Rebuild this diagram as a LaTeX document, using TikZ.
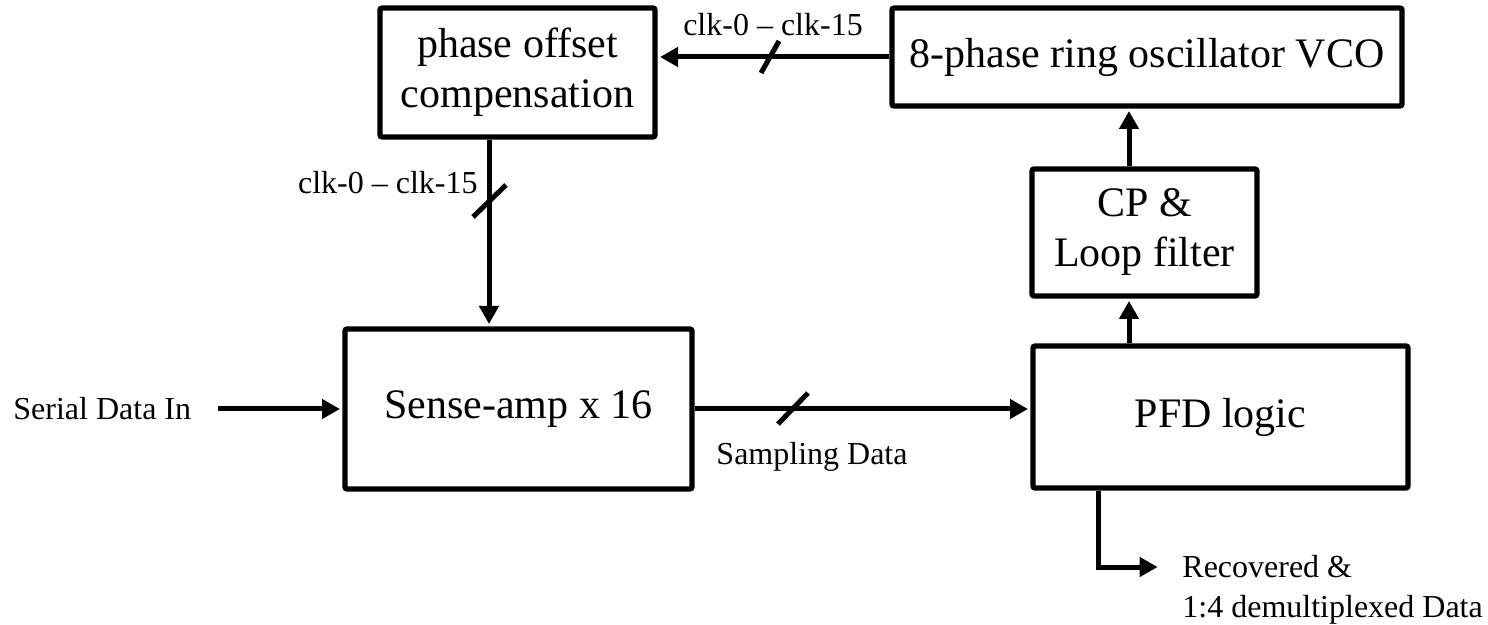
\documentclass[tikz,border=0pt]{standalone}
\usepackage{fontspec}
\setmainfont{Liberation Serif}
\usetikzlibrary{arrows.meta}
\begin{document}
\begin{tikzpicture}[x=0.5pt,y=-0.5pt,
  blk/.style={draw, line width=2.6pt, rounded corners=1pt, inner sep=0pt, align=center, font=\fontsize{21}{25}\selectfont},
  lbl/.style={inner sep=0pt, font=\fontsize{16}{20}\selectfont},
  conn/.style={line width=2.5pt, shorten >=1.2pt, -{Triangle[length=9pt,width=9.5pt]}},
  slash/.style={line width=2.5pt}]
\useasboundingbox (0,0) rectangle (1488,625);
% blocks
\node[blk, minimum width=137.5pt, minimum height=64.5pt] (phase) at (517.5,72.5) {phase offset\\compensation};
\node[blk, minimum width=255pt, minimum height=49pt] (vco) at (1147,57) {8-phase ring oscillator VCO};
\node[blk, minimum width=112.5pt, minimum height=63.5pt] (cp) at (1144.5,232.5) {CP \&\\Loop filter};
\node[blk, minimum width=173.5pt, minimum height=80pt] (sense) at (518.5,409) {Sense-amp x 16};
\node[blk, minimum width=187.5pt, minimum height=71pt] (pfd) at (1220.5,417) {PFD logic};
% labels
\node[lbl] (ltop) at (773,25) {clk-0 -- clk-15};
\node[lbl, anchor=east] (lleft) at (478,183) {clk-0 -- clk-15};
\node[lbl] (lsamp) at (812,457) {Sampling Data};
\node[lbl, anchor=west] (lsdi) at (13,409) {Serial Data In};
\node[lbl, anchor=west, align=left] (lout) at (1182,590) {Recovered \&\\1:4 demultiplexed Data};
% helper coordinates
\coordinate (cv) at (489,0);
\coordinate (cl) at (1129,0);
\coordinate (sin) at (218,409);
\coordinate (obend) at (1098,567);
\coordinate (oend) at (1160,567);
% connectors
\draw[conn] (vco.west) -- (vco.west -| phase.east);
\draw[conn] (phase.south -| cv) -- (sense.north -| cv);
\draw[conn] (sin) -- (sense.west);
\draw[conn] (sense.east) -- (sense.east -| pfd.west);
\draw[conn] (pfd.north -| cl) -- (cp.south -| cl);
\draw[conn] (cp.north -| cl) -- (vco.south -| cl);
\draw[conn] (pfd.south -| obend) |- (oend);
% bus slashes
\draw[slash] (761,73) -- (779,41);
\draw[slash] (473,217) -- (506,185);
\draw[slash] (778,424) -- (808,393);
\end{tikzpicture}
\end{document}
